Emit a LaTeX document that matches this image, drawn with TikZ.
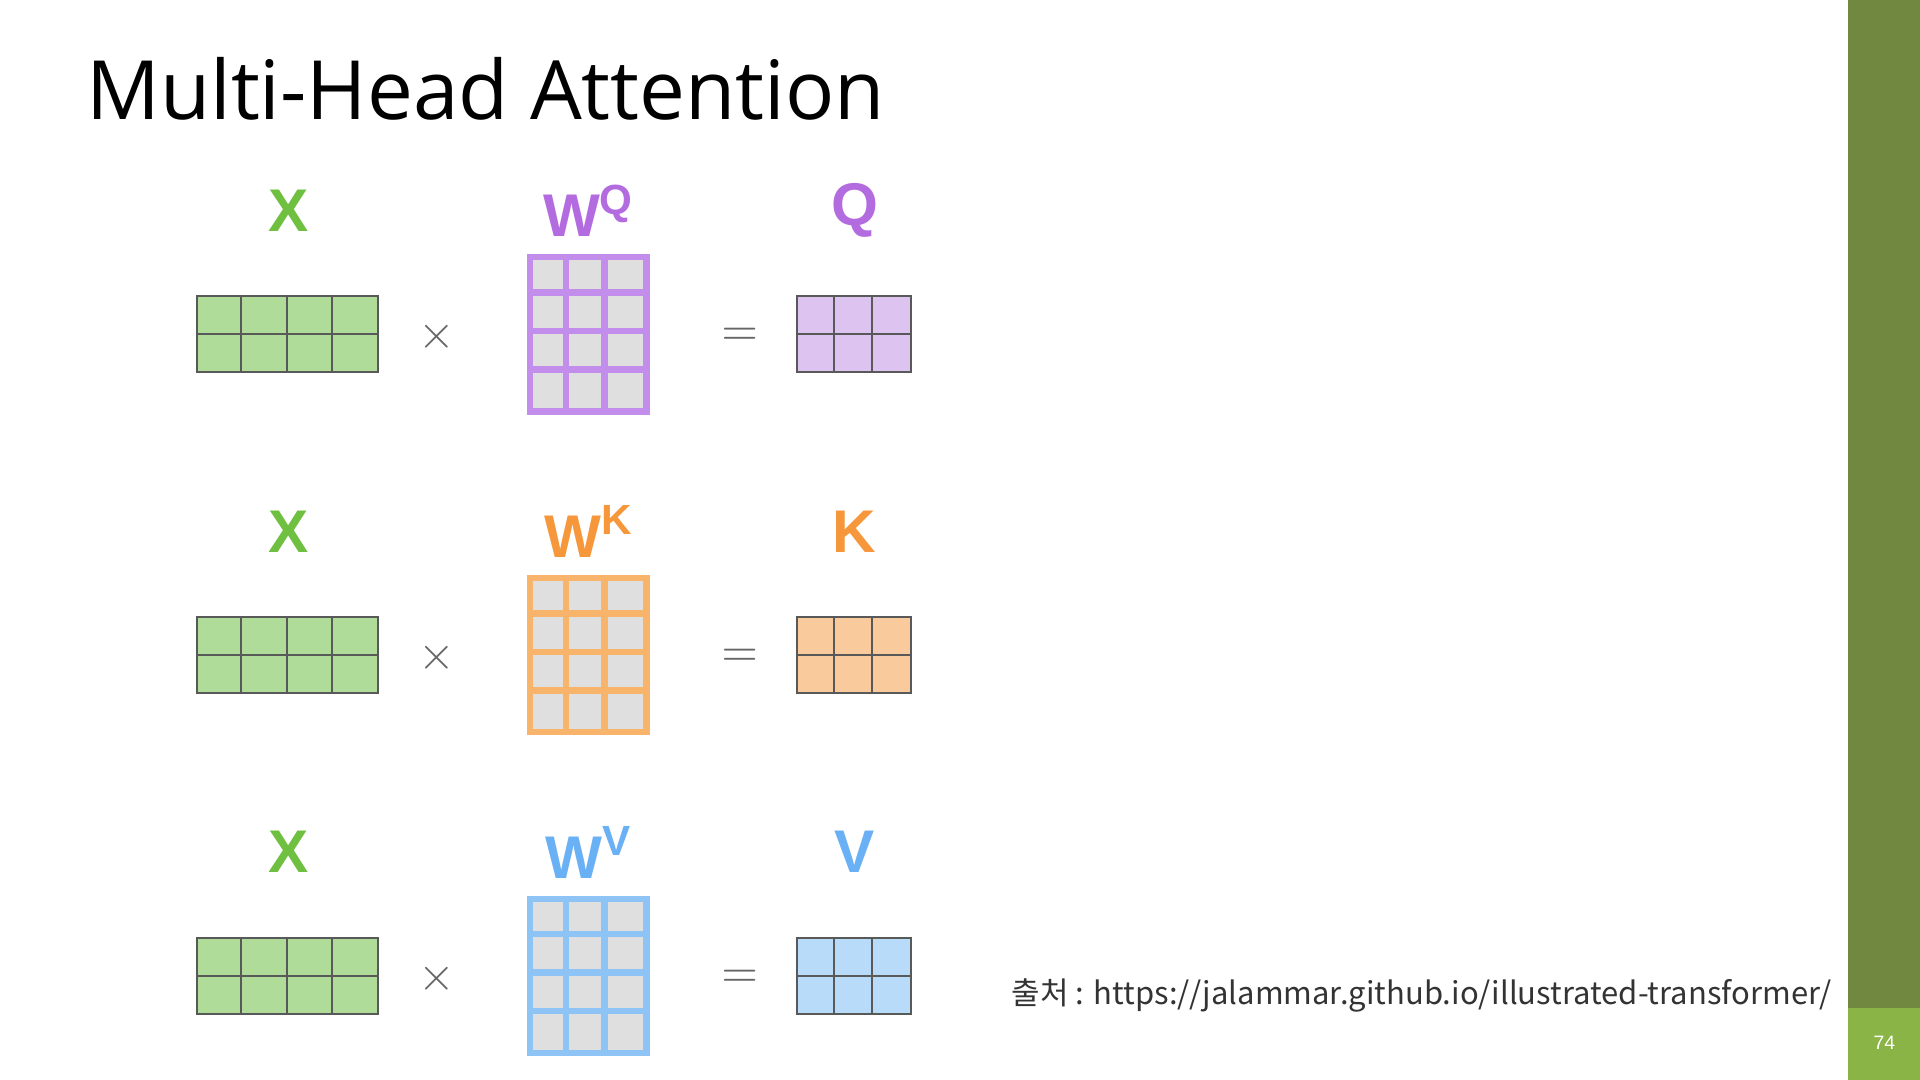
\documentclass[tikz,border=0pt]{standalone}
\usepackage{fontspec}
\setmainfont{Liberation Sans}
\newfontfamily\cjk{Noto Sans CJK KR}
\newfontfamily\titlefont{Open Sans}
\definecolor{xgreen}{HTML}{6FBF40}
\definecolor{xfill}{HTML}{B0DC9A}
\definecolor{qline}{HTML}{C28DEB}
\definecolor{qtext}{HTML}{B36BE0}
\definecolor{qfill}{HTML}{DDC3F0}
\definecolor{kline}{HTML}{F7B46A}
\definecolor{ktext}{HTML}{F5973A}
\definecolor{kfill}{HTML}{F9CB9C}
\definecolor{vline}{HTML}{8EC4F5}
\definecolor{vtext}{HTML}{6AB0F5}
\definecolor{vfill}{HTML}{B9DBFA}
\definecolor{bar}{HTML}{70883F}
\definecolor{barlight}{HTML}{8AB446}
\begin{document}
\begin{tikzpicture}[
x=0.01cm,y=-0.01cm,
label/.style={font=\bfseries\fontsize{14}{14}\selectfont},
op/.style={text=gray!80!black,font=\fontsize{11}{11}\selectfont},
mat/.style={draw=gray!70!black,line width=0.5pt,inner sep=0pt}
]
\useasboundingbox (0,0) rectangle (1568,882);
\fill[bar] (1509,0) rectangle (1568,882);
\fill[barlight] (1509,823) rectangle (1568,882);
\node[text=white,font=\fontsize{4.5}{5}\selectfont] (page) at (1539,852) {74};

\node[anchor=base west,font=\titlefont\fontsize{19}{20}\selectfont] (title) at (58,98) {Multi-Head Attention};

% three rows: offset / line colour / text colour / fill / letter
\foreach \dy/\lc/\tc/\fc/\nm [count=\i] in {0/qline/qtext/qfill/Q, 262/kline/ktext/kfill/K, 524/vline/vtext/vfill/V}{
  % X matrix
  \node[mat,fill=xfill,minimum width=148*0.01cm,minimum height=62*0.01cm] (x\i) at (235,273+\dy) {};
  \foreach \c in {1,2,3} \draw[gray!70!black,line width=0.5pt] ([xshift=\c*37*0.01cm]x\i.north west) -- ([xshift=\c*37*0.01cm]x\i.south west);
  \draw[gray!70!black,line width=0.5pt] (x\i.west) -- (x\i.east);
  \node[label,text=xgreen] (xl\i) at (236,172+\dy) {X};
  % weight matrix
  \node[draw=\lc,line width=1.5pt,fill=gray!25,inner sep=0pt,minimum width=95*0.01cm,minimum height=126*0.01cm] (w\i) at (480.5,273+\dy) {};
  \foreach \c in {1,2} \draw[\lc,line width=1.5pt] ([xshift=\c*31.67*0.01cm]w\i.north west) -- ([xshift=\c*31.67*0.01cm]w\i.south west);
  \foreach \r in {1,2,3} \draw[\lc,line width=1.5pt] ([yshift=-\r*31.5*0.01cm]w\i.north west) -- ([yshift=-\r*31.5*0.01cm]w\i.north east);
  \node[label,text=\tc] (wl\i) at (481,172+\dy) {W\textsuperscript{\nm}};
  % result matrix
  \node[mat,fill=\fc,minimum width=93*0.01cm,minimum height=62*0.01cm] (r\i) at (697.5,273+\dy) {};
  \foreach \c in {1,2} \draw[gray!70!black,line width=0.5pt] ([xshift=\c*31*0.01cm]r\i.north west) -- ([xshift=\c*31*0.01cm]r\i.south west);
  \draw[gray!70!black,line width=0.5pt] (r\i.west) -- (r\i.east);
  \node[label,text=\tc] (rl\i) at (698,172+\dy) {\nm};
  % operators
  \node[op] (times\i) at (357,275+\dy) {$\times$};
  \node[op] (eq\i) at (604,275+\dy) {$=$};
}

\node[anchor=west,font=\cjk\fontsize{7.2}{8}\selectfont,text=black!80] (src) at (814,813) {출처 : https://jalammar.github.io/illustrated-transformer/};
\end{tikzpicture}
\end{document}
